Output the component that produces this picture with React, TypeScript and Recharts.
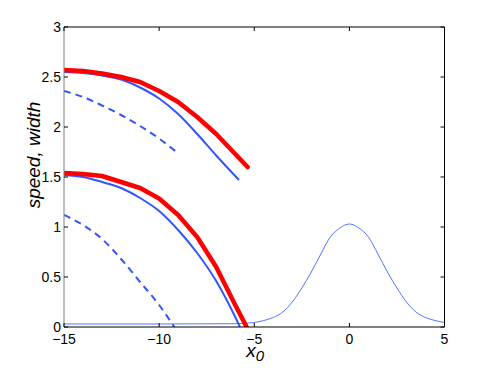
import React from 'react';
import { LineChart, Line, XAxis, YAxis } from 'recharts';

const xTicks = [-15, -10, -5, 0, 5];
const yTicks = [0, 0.5, 1, 1.5, 2, 2.5, 3];

const upperRedX = [-15, -14, -13, -12, -11, -10, -9, -8, -7, -6, -5.35];
const upperRedY = [2.57, 2.56, 2.535, 2.5, 2.45, 2.36, 2.25, 2.1, 1.93, 1.73, 1.6];

const upperBlueX = [-15, -14, -13, -12, -11, -10, -9, -8, -7, -6, -5.8];
const upperBlueY = [2.55, 2.54, 2.515, 2.475, 2.395, 2.285, 2.13, 1.93, 1.715, 1.51, 1.47];

const upperDashX = [-15, -14, -13, -12, -11, -10, -9.15];
const upperDashY = [2.36, 2.3, 2.215, 2.12, 2.01, 1.885, 1.76];

const lowerRedX = [-15, -14, -13, -12, -11, -10, -9, -8, -7, -6, -5.4];
const lowerRedY = [1.54, 1.53, 1.51, 1.45, 1.39, 1.285, 1.12, 0.9, 0.6, 0.22, 0];

const lowerBlueX = [-15, -14, -13, -12, -11, -10, -9, -8, -7, -6, -5.75];
const lowerBlueY = [1.52, 1.5, 1.45, 1.39, 1.29, 1.16, 0.97, 0.74, 0.46, 0.1, 0];

const lowerDashX = [-15, -14, -13, -12, -11, -10, -9.2];
const lowerDashY = [1.12, 1.02, 0.88, 0.68, 0.45, 0.22, 0];

const profileX = [-15, -10, -6, -5.5, -5, -4.5, -4, -3.5, -3, -2.5, -2, -1.5, -1, -0.5, 0, 0.5, 1, 1.5, 2, 2.5, 3, 3.5, 4, 4.5, 5];
const profileY = [0.03, 0.03, 0.033, 0.038, 0.045, 0.065, 0.095, 0.15, 0.25, 0.39, 0.55, 0.73, 0.9, 0.99, 1.03, 0.99, 0.9, 0.73, 0.55, 0.39, 0.25, 0.15, 0.095, 0.065, 0.045];

const pts = (xs: number[], ys: number[]) => xs.map((x, i) => ({ x, y: ys[i] }));

const FONT = '"Liberation Sans", Arial, Helvetica, sans-serif';
const BLUE = '#3355ff';
const RED = '#ff0000';

const fmt = (v: number) => (v < 0 ? '\u2212' + String(-v) : String(v));

const BottomTick = (p: any) => (
  <g>
    <line x1={p.x} y1={p.y} x2={p.x} y2={p.y - 4} stroke="#000" strokeWidth={1} />
    <text x={p.x} y={p.y + 17} textAnchor="middle" fontSize={14} fontFamily={FONT} fill="#000">
      {fmt(p.payload.value)}
    </text>
  </g>
);

const LeftTick = (p: any) => (
  <g>
    <line x1={p.x} y1={p.y} x2={p.x + 4} y2={p.y} stroke="#000" strokeWidth={1} />
    <text x={p.x - 3} y={p.y} dy="0.36em" textAnchor="end" fontSize={14} fontFamily={FONT} fill="#000">
      {String(p.payload.value)}
    </text>
  </g>
);

const TopTick = (p: any) => (
  <line x1={p.x} y1={p.y} x2={p.x} y2={p.y + 4} stroke="#000" strokeWidth={1} />
);

const RightTick = (p: any) => (
  <line x1={p.x} y1={p.y} x2={p.x - 4} y2={p.y} stroke="#000" strokeWidth={1} />
);

const XLabel = (p: any) => {
  const vb = p.viewBox || { x: 56, y: 319, width: 380.5 };
  const cx = vb.x + vb.width / 2 + 1;
  return (
    <text x={cx} y={vb.y + 30} textAnchor="middle" fontStyle="italic" fontSize={19} fontFamily={FONT} fill="#000">
      x
      <tspan dy={4} fontSize={15}>0</tspan>
    </text>
  );
};

const YLabel = (p: any) => {
  const vb = p.viewBox || { x: 56, y: 19, height: 300 };
  const tx = vb.x - 30;
  const ty = vb.y + vb.height / 2 - 22;
  return (
    <text
      x={tx}
      y={ty}
      transform={`rotate(-90, ${tx}, ${ty})`}
      textAnchor="middle"
      dominantBaseline="central"
      fontStyle="italic"
      fontSize={19}
      fontFamily={FONT}
      fill="#000"
    >
      speed, width
    </text>
  );
};

export default function App() {
  const common = {
    xAxisId: 'b',
    yAxisId: 'l',
    dataKey: 'y',
    dot: false,
    activeDot: false,
    isAnimationActive: false,
  } as const;
  return (
    <LineChart width={483} height={361} margin={{ top: 18, right: 45.5, bottom: 41, left: 55 }}>
      <XAxis
        xAxisId="b"
        type="number"
        dataKey="x"
        domain={[-15, 5]}
        ticks={xTicks}
        interval={0}
        allowDataOverflow
        height={1}
        tickSize={0}
        tickMargin={0}
        tickLine={false}
        axisLine={{ stroke: '#000', strokeWidth: 1 }}
        tick={<BottomTick />}
        label={<XLabel />}
      />
      <XAxis
        xAxisId="t"
        orientation="top"
        type="number"
        dataKey="x"
        domain={[-15, 5]}
        ticks={xTicks}
        interval={0}
        allowDataOverflow
        height={1}
        tickSize={0}
        tickMargin={0}
        tickLine={false}
        axisLine={{ stroke: '#000', strokeWidth: 1 }}
        tick={<TopTick />}
      />
      <YAxis
        yAxisId="l"
        type="number"
        domain={[0, 3]}
        ticks={yTicks}
        interval={0}
        allowDataOverflow
        width={1}
        tickSize={0}
        tickMargin={0}
        tickLine={false}
        axisLine={{ stroke: '#808080', strokeWidth: 1 }}
        tick={<LeftTick />}
        label={<YLabel />}
      />
      <YAxis
        yAxisId="r"
        orientation="right"
        type="number"
        domain={[0, 3]}
        ticks={yTicks}
        interval={0}
        allowDataOverflow
        width={1}
        tickSize={0}
        tickMargin={0}
        tickLine={false}
        axisLine={{ stroke: '#000', strokeWidth: 1 }}
        tick={<RightTick />}
      />
      <Line xAxisId="t" yAxisId="r" data={pts(profileX, profileY)} dataKey="y" stroke="none" dot={false} activeDot={false} isAnimationActive={false} />
      <Line {...common} data={pts(profileX, profileY)} type="monotone" stroke="#5575ff" strokeWidth={1} />
      <Line {...common} data={pts(upperDashX, upperDashY)} type="monotone" stroke={BLUE} strokeWidth={2} strokeDasharray="7 5" />
      <Line {...common} data={pts(lowerDashX, lowerDashY)} type="monotone" stroke={BLUE} strokeWidth={2} strokeDasharray="7 5" />
      <Line {...common} data={pts(upperBlueX, upperBlueY)} type="monotone" stroke={BLUE} strokeWidth={2} />
      <Line {...common} data={pts(lowerBlueX, lowerBlueY)} type="monotone" stroke={BLUE} strokeWidth={2} />
      <Line {...common} data={pts(upperRedX, upperRedY)} type="linear" stroke={RED} strokeWidth={4.5} strokeLinecap="round" strokeLinejoin="round" />
      <Line {...common} data={pts(lowerRedX, lowerRedY)} type="linear" stroke={RED} strokeWidth={4.5} strokeLinecap="round" strokeLinejoin="round" />
    </LineChart>
  );
}
